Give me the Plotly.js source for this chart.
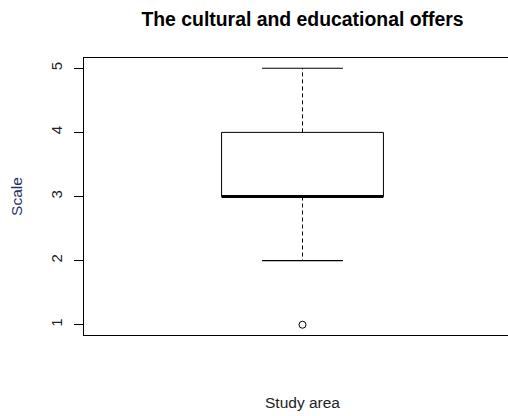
<!DOCTYPE html>
<html>
<head>
<meta charset="utf-8">
<script src="https://cdn.plot.ly/plotly-3.0.1.min.js"></script>
<style>
html,body{margin:0;padding:0;overflow:hidden;background:#fff;width:508px;height:416px;}
#chart{width:530px;height:416px;}
</style>
</head>
<body>
<div id="chart"></div>
<script>
// Data (boxplot statistics)
const categories = ["Study area"];
const positions = [1];
const lowerWhisker = [2];
const q1 = [3];
const median = [3];
const q3 = [4];
const upperWhisker = [5];
const outliers = [[1]];
const yTicks = [1, 2, 3, 4, 5];

const boxHalf = 0.2, capHalf = 0.1;
const traces = [];
positions.forEach((p, i) => {
  traces.push({
    type: 'scatter', mode: 'lines', hoverinfo: 'skip', showlegend: false,
    x: [p - boxHalf, p + boxHalf, p + boxHalf, p - boxHalf, p - boxHalf],
    y: [q1[i], q1[i], q3[i], q3[i], q1[i]],
    line: {color: '#000', width: 1}
  });
  traces.push({
    type: 'scatter', mode: 'lines', hoverinfo: 'skip', showlegend: false,
    x: [p, p, null, p, p],
    y: [q3[i], upperWhisker[i], null, q1[i], lowerWhisker[i]],
    line: {color: '#000', width: 1, dash: '4px,3px'}
  });
  traces.push({
    type: 'scatter', mode: 'lines', hoverinfo: 'skip', showlegend: false,
    x: [p - capHalf, p + capHalf, null, p - capHalf, p + capHalf],
    y: [upperWhisker[i], upperWhisker[i], null, lowerWhisker[i], lowerWhisker[i]],
    line: {color: '#000', width: 1.2}
  });
  traces.push({
    type: 'scatter', mode: 'lines', hoverinfo: 'skip', showlegend: false,
    x: [p - boxHalf, p + boxHalf],
    y: [median[i], median[i]],
    line: {color: '#000', width: 3}
  });
  traces.push({
    type: 'scatter', mode: 'markers', showlegend: false,
    x: outliers[i].map(() => p),
    y: outliers[i],
    marker: {symbol: 'circle-open', size: 7, color: '#000', line: {width: 1}}
  });
});

const layout = {
  width: 530, height: 416,
  margin: {l: 84, r: 9, t: 58, b: 81},
  paper_bgcolor: '#fff', plot_bgcolor: '#fff',
  font: {family: 'Liberation Sans, Arial, sans-serif', color: '#000'},
  title: {
    text: '<b>The cultural and educational offers</b>',
    font: {size: 19.4, color: '#000', family: 'Liberation Sans, Arial, sans-serif'},
    x: 0.5, xanchor: 'center', xref: 'paper', y: 0.955, yanchor: 'middle'
  },
  xaxis: {
    range: [0.46, 1.54], showticklabels: false, ticks: '', showgrid: false,
    zeroline: false, showline: true, mirror: true, linecolor: '#000', linewidth: 1,
    title: {text: categories[0], font: {size: 15.5, color: '#222'}, standoff: 62}
  },
  yaxis: {
    range: [0.84, 5.16], tickvals: yTicks, ticktext: yTicks.map(String),
    ticks: 'outside', ticklen: 9, tickcolor: '#000', tickwidth: 1, tickangle: -90,
    tickfont: {size: 15, color: '#222'}, ticklabelstandoff: 6,
    showgrid: false, zeroline: false, showline: true, mirror: false,
    linecolor: '#000', linewidth: 1,
    title: {text: 'Scale', font: {size: 15.5, color: '#1f2f66'}, standoff: 21}
  }
};

Plotly.newPlot('chart', traces, layout, {displayModeBar: false, staticPlot: true});
</script>
</body>
</html>
